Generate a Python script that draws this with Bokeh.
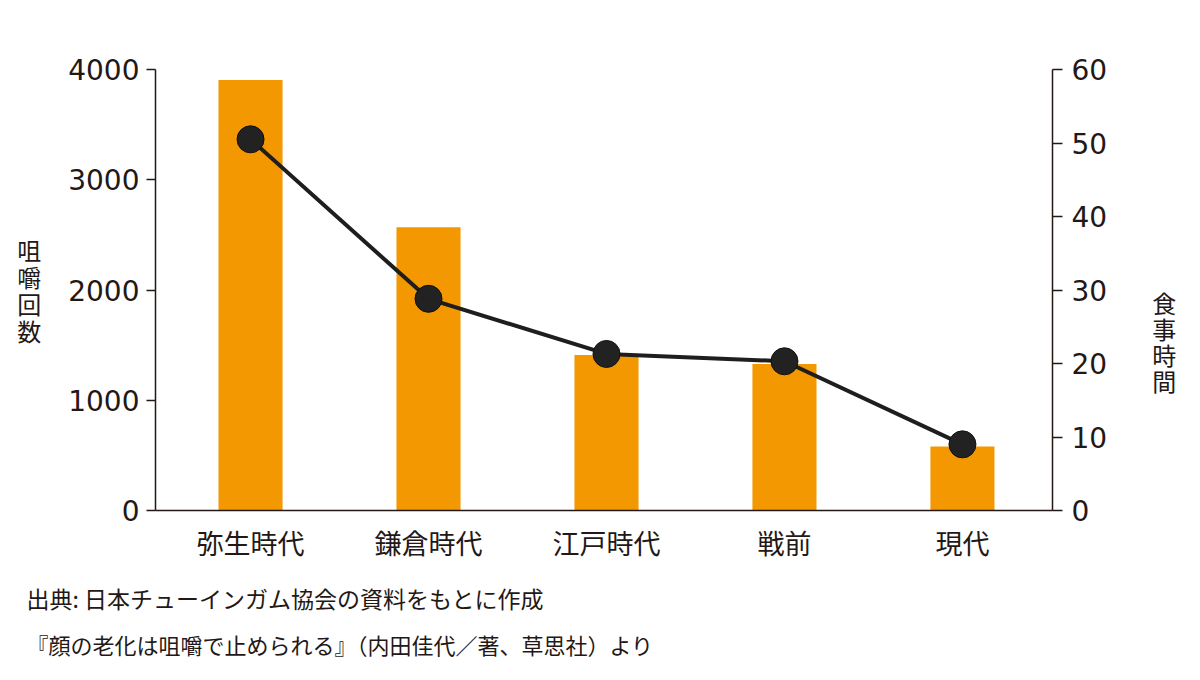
from bokeh.plotting import figure
from bokeh.models import Range1d, LinearAxis, FixedTicker, Title
from bokeh.embed import file_html
from bokeh.resources import INLINE

# ---- data ----
categories = ["弥生時代", "鎌倉時代", "江戸時代", "戦前", "現代"]
chew_counts = [3905, 2570, 1410, 1328, 580]        # 咀嚼回数 (left axis)
meal_minutes = [50.5, 28.8, 21.3, 20.3, 9.0]       # 食事時間 (right axis)
left_ticks = [0, 1000, 2000, 3000, 4000]
right_ticks = [0, 10, 20, 30, 40, 50, 60]
left_title = "咀嚼回数"
right_title = "食事時間"
note_lines = ["出典: 日本チューインガム協会の資料をもとに作成",
              "『顔の老化は咀嚼で止められる』（内田佳代／著、草思社）より"]

INK = "#231815"
ORANGE = "#F39800"
NUM_FONT = "DejaVu Sans"
JP_FONT = "Noto Sans CJK JP"

W, H = 1184, 664
FL, FR, FT, FB = 155, 1052, 69, 510   # frame edges

xs = list(range(len(categories)))

p = figure(width=W, height=H, output_backend="svg", toolbar_location=None,
           x_range=Range1d(-0.534, 4.506), y_range=Range1d(0, 4000),
           min_border_left=FL, min_border_right=W - FR,
           min_border_top=FT, min_border_bottom=H - FB,
           background_fill_color="white", border_fill_color="white")
p.outline_line_color = None
p.grid.visible = False
p.extra_y_ranges = {"time": Range1d(0, 60)}

p.vbar(x=xs, top=chew_counts, width=0.36, bottom=0,
       fill_color=ORANGE, line_color=None)
p.line(x=xs, y=meal_minutes, y_range_name="time", line_color="#1e1e1e", line_width=4)
p.scatter(x=xs, y=meal_minutes, y_range_name="time", size=27,
          fill_color="#222222", line_color="#111111", line_width=1)


def style_axis(ax, tick_out, standoff):
    ax.minor_tick_line_color = None
    ax.major_tick_in = 0
    ax.major_tick_out = tick_out
    ax.axis_line_color = INK
    ax.major_tick_line_color = INK
    ax.axis_line_width = 1.5
    ax.major_tick_line_width = 1.5
    ax.major_label_text_font = NUM_FONT
    ax.major_label_text_font_size = "28px"
    ax.major_label_text_color = INK
    ax.major_label_standoff = standoff
    ax.axis_label_text_font = JP_FONT
    ax.axis_label_text_font_size = "24px"
    ax.axis_label_text_font_style = "normal"
    ax.axis_label_text_color = INK
    ax.axis_label_orientation = "horizontal"
    ax.axis_label_text_line_height = 0.78


# left axis
ya = p.yaxis[0]
ya.ticker = FixedTicker(ticks=left_ticks)
style_axis(ya, 9, 7)
ya.axis_label = "\n".join(left_title)
ya.axis_label_standoff = 24

# right axis
ra = LinearAxis(y_range_name="time", ticker=FixedTicker(ticks=right_ticks))
style_axis(ra, 10, 9)
ra.axis_label = "\n".join(["\u3000"] * 4 + list(right_title))
ra.axis_label_text_line_height = 0.74
ra.axis_label_standoff = 42
p.add_layout(ra, "right")

# bottom axis
xa = p.xaxis[0]
xa.ticker = FixedTicker(ticks=xs)
xa.major_label_overrides = {i: c for i, c in enumerate(categories)}
xa.minor_tick_line_color = None
xa.major_tick_line_color = None
xa.major_tick_in = 0
xa.major_tick_out = 0
xa.axis_line_color = INK
xa.axis_line_width = 1.5
xa.major_label_text_font = JP_FONT
xa.major_label_text_font_size = "27px"
xa.major_label_text_color = INK
xa.major_label_standoff = 12

# source notes
note_sizes = ["23px", "22px"]
note_standoffs = [28, -5]
for line, fs, so in zip(note_lines, note_sizes, note_standoffs):
    p.add_layout(Title(text=line, align="left", offset=26 - FL, standoff=so,
                       text_font=JP_FONT, text_font_size=fs,
                       text_font_style="normal", text_color=INK), "below")

open("out.html", "w").write(file_html(p, INLINE))
